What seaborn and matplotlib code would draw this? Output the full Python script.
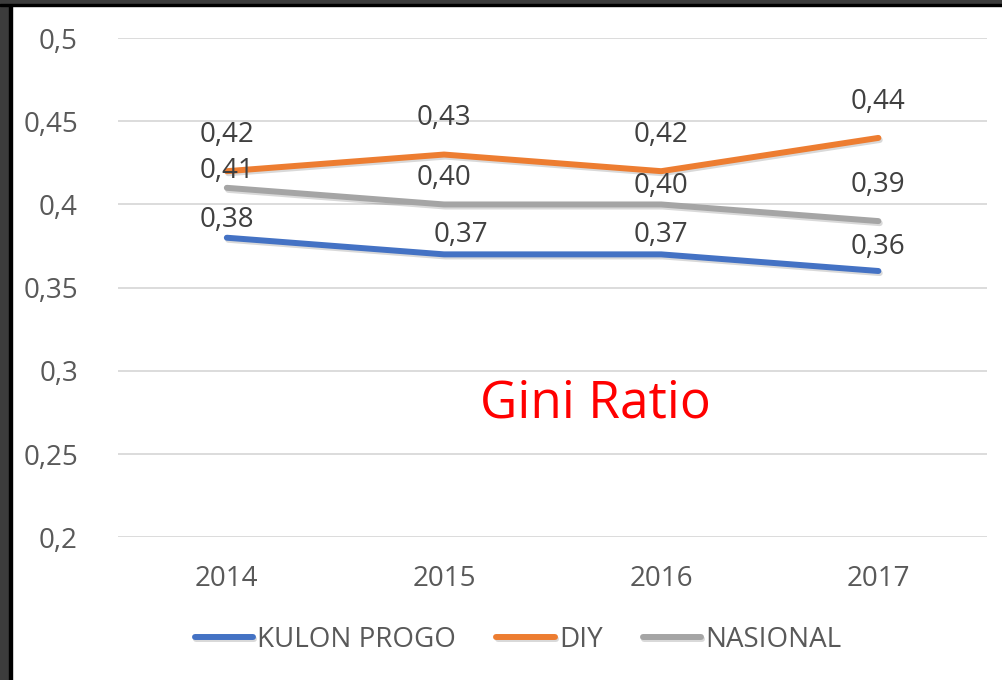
import pandas as pd
import seaborn as sns
import matplotlib.pyplot as plt
import matplotlib.patheffects as pe
from matplotlib.patches import Rectangle

years = ["2014", "2015", "2016", "2017"]
kulon_progo = [0.38, 0.37, 0.37, 0.36]
diy = [0.42, 0.43, 0.42, 0.44]
nasional = [0.41, 0.40, 0.40, 0.39]
series_names = ["KULON PROGO", "DIY", "NASIONAL"]
colors = ["#4472C4", "#ED7D31", "#A5A5A5"]
y_ticks = [0.2, 0.25, 0.3, 0.35, 0.4, 0.45, 0.5]

# label offsets in points (dx, dy) per series, per year
label_offsets = [
    [(0, 13), (12, 14), (0, 14), (0, 17)],
    [(0, 26), (0, 26), (0, 26), (0, 26)],
    [(0, 12), (0, 19), (0, 13), (0, 26)],
]

data = pd.DataFrame({
    "year": years * 3,
    "value": kulon_progo + diy + nasional,
    "series": [s for s in series_names for _ in years],
})

sns.set_style("white")
plt.rcParams["font.family"] = ["Open Sans", "DejaVu Sans"]

fig = plt.figure(figsize=(10.02, 6.8), dpi=100)
ax = fig.add_axes([0.118, 0.21, 0.867, 0.734])

shadow = [pe.SimpleLineShadow(offset=(1, -1.5), shadow_color="black", alpha=0.15), pe.Normal()]
sns.lineplot(data=data, x="year", y="value", hue="series", palette=colors,
             linewidth=4.3, ax=ax, sort=False, legend=True)
for line in ax.lines:
    line.set_solid_capstyle("round")
    line.set_path_effects(shadow)

for vals, offs in zip([kulon_progo, diy, nasional], label_offsets):
    for i, (v, o) in enumerate(zip(vals, offs)):
        ax.annotate(f"{v:.2f}".replace(".", ","), (i, v), xytext=o,
                    textcoords="offset points", ha="center", va="center",
                    fontsize=20, color="#404040")

ax.set_xlim(-0.5, 3.5)
ax.set_ylim(0.2, 0.5)
ax.set_yticks(y_ticks)
ax.set_yticklabels([f"{t:g}".replace(".", ",") for t in y_ticks])
ax.grid(axis="y", color="#D9D9D9", linewidth=1.3)
ax.set_axisbelow(True)
for s in ax.spines.values():
    s.set_visible(False)
ax.tick_params(axis="both", length=0, labelsize=20, labelcolor="#595959")
ax.tick_params(axis="y", pad=29)
ax.tick_params(axis="x", pad=20)
ax.set_xlabel("")
ax.set_ylabel("")

ax.text(0.549, 0.267, "Gini Ratio", transform=ax.transAxes, color="#FF0000",
        fontsize=37, ha="center", va="center")

handles, labels = ax.get_legend_handles_labels()
leg = fig.legend(handles, labels, loc="center", bbox_to_anchor=(0.517, 0.059),
                 ncol=3, frameon=False, fontsize=20, handlelength=2.1,
                 handletextpad=0.15, columnspacing=1.45, labelcolor="#595959")
for h in leg.get_lines():
    h.set_linewidth(4.3)
    h.set_solid_capstyle("round")
ax.get_legend().remove()

# dark frame on top and left
fig.patches.append(Rectangle((0, 0), 0.010, 1, transform=fig.transFigure, color="#3C3C3C", zorder=10))
fig.patches.append(Rectangle((0.009, 0), 0.003, 1, transform=fig.transFigure, color="#000000", zorder=10))
fig.patches.append(Rectangle((0, 0.993), 1, 0.007, transform=fig.transFigure, color="#3C3C3C", zorder=10))
fig.patches.append(Rectangle((0, 0.991), 1, 0.003, transform=fig.transFigure, color="#000000", zorder=10))

fig.savefig("out.png", dpi=100)
plt.close(fig)
